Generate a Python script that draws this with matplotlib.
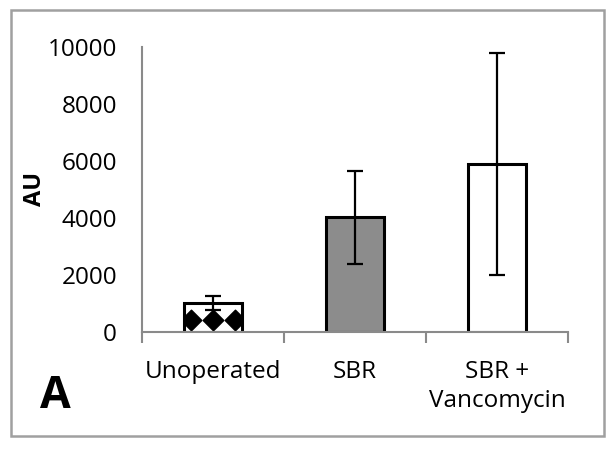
import matplotlib
matplotlib.use("Agg")
import matplotlib.pyplot as plt
from matplotlib.patches import Rectangle
import numpy as np

categories = ["Unoperated", "SBR", "SBR +\nVancomycin"]
values = [1010, 4030, 5900]
errors = [250, 1630, 3900]
bar_colors = ["white", "#8c8c8c", "white"]
yticks = [0, 2000, 4000, 6000, 8000, 10000]

plt.rcParams['font.family'] = ['Open Sans', 'DejaVu Sans']

fig = plt.figure(figsize=(6.14, 4.49), dpi=100)
ax = fig.add_axes([142/614, 1-332/449, (568-142)/614, (332-47)/449])

x = np.arange(len(categories))
bars = ax.bar(x, values, width=0.41, color=bar_colors, edgecolor="black",
              linewidth=2.2, zorder=2)
ax.errorbar(x, values, yerr=errors, fmt="none", ecolor="black",
            elinewidth=1.6, capsize=6, capthick=1.6, zorder=3)

# diamond pattern inside the first bar
b = bars[0]
bx = b.get_x() + b.get_width() * np.array([0.12, 0.5, 0.88])
by = np.full(3, b.get_height() * 0.41)
dots = ax.scatter(bx, by, marker="D", s=110, color="black", zorder=2.5)
dots.set_clip_path(b)

ax.set_xlim(-0.5, 2.5)
ax.set_ylim(0, 10000)
ax.set_yticks(yticks)
ax.set_yticklabels([str(v) for v in yticks], fontsize=17.5)
ax.tick_params(axis="y", length=0, pad=18)
ax.set_yticks([0, 10000], minor=True)
ax.tick_params(axis="y", which="minor", length=8, width=1.5, color="#8a8a8a",
               direction="out")

ax.set_xticks(x)
ax.set_xticklabels(categories, fontsize=17.5, linespacing=1.3, va="top")
ax.tick_params(axis="x", length=0, pad=20)
ax.set_xticks([-0.5, 0.5, 1.5, 2.5], minor=True)
ax.tick_params(axis="x", which="minor", length=8, width=1.5, color="#8a8a8a",
               direction="out")

for s in ["top", "right"]:
    ax.spines[s].set_visible(False)
for s in ["left", "bottom"]:
    ax.spines[s].set_color("#8a8a8a")
    ax.spines[s].set_linewidth(1.5)

fig.text(35/614, 1-189/449, "AU", fontsize=17, fontweight="bold",
         rotation=90, ha="center", va="center")

fig.text(40/614, 1-408/449, "A", fontsize=32, fontweight="bold",
         ha="left", va="baseline")

fig.patches.append(Rectangle((11/614, 1-436/449), 593/614, 426/449,
                             transform=fig.transFigure, fill=False,
                             edgecolor="#a0a0a0", linewidth=1.8))

fig.savefig("out.png", dpi=100)
